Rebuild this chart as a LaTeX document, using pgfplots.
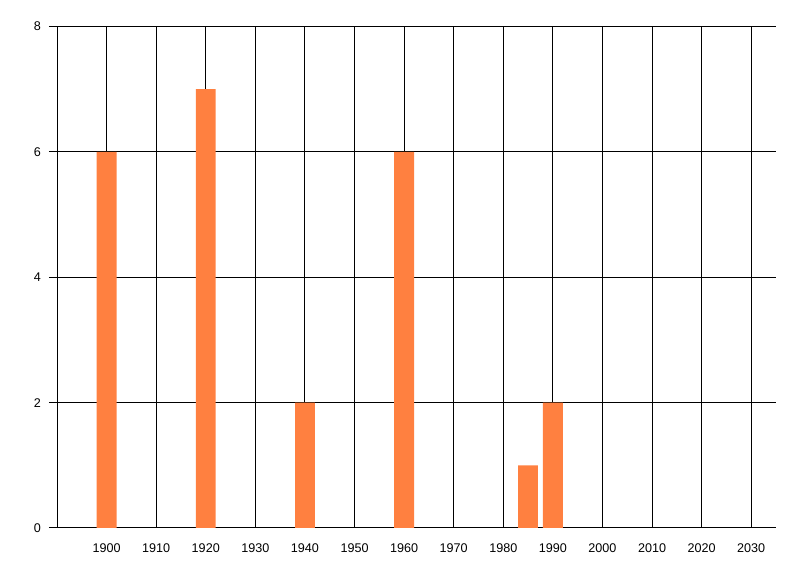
\documentclass[border=0pt]{standalone}
\usepackage{pgfplots}
\pgfplotsset{compat=1.18}
\usepackage{fontspec}
\setmainfont{Liberation Sans}
\definecolor{barorange}{RGB}{255,128,64}

\begin{document}
\begin{tikzpicture}
\useasboundingbox (0,0) rectangle (400pt,-288pt);
\begin{axis}[
    at={(28.5pt,-264pt)},
    anchor=south west,
    scale only axis,
    width=359.5pt,
    height=250.75pt,
    xmin=1890, xmax=2035,
    ymin=0, ymax=8,
    xtick={1900,1910,...,2030},
    ytick={0,2,4,6,8},
    grid=major,
    major grid style={black, line width=0.5pt},
    axis x line=bottom,
    axis y line=left,
    axis line style={-, black, line width=0.5pt},
    xtick style={draw=none},
    ytick style={black, line width=0.5pt},
    tick align=outside,
    major tick length=4pt,
    ticklabel style={font=\fontsize{6.3}{7}\selectfont},
    yticklabel style={xshift=-0.5pt},
    xticklabel style={yshift=-0.5pt},
    /pgf/number format/assume math mode=true,
    /pgf/number format/set thousands separator={},
    ybar,
    bar width=4,
]
\addplot[fill=barorange, draw=none] coordinates {
    (1900,6) (1920,7) (1940,2) (1960,6) (1985,1) (1990,2)
};
\end{axis}
\end{tikzpicture}
\end{document}
